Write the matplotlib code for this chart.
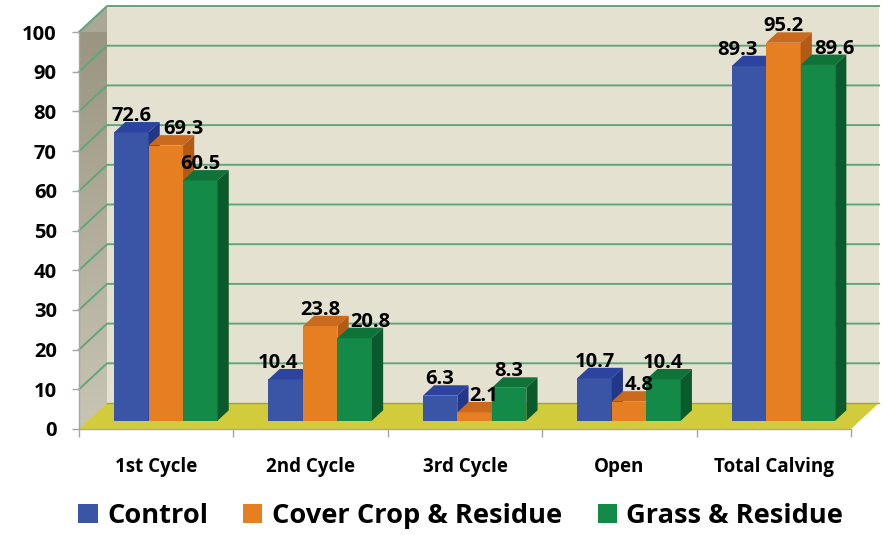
import matplotlib.pyplot as plt
from matplotlib.patches import Polygon, Patch
from matplotlib.colors import LinearSegmentedColormap
import numpy as np

plt.rcParams['font.family'] = ['Open Sans', 'DejaVu Sans']
plt.rcParams['font.weight'] = 'bold'

categories = ['1st Cycle', '2nd Cycle', '3rd Cycle', 'Open', 'Total Calving']
series = ['Control', 'Cover Crop & Residue', 'Grass & Residue']
control = [72.6, 10.4, 6.3, 10.7, 89.3]
cover_crop = [69.3, 23.8, 2.1, 4.8, 95.2]
grass = [60.5, 20.8, 8.3, 10.4, 89.6]
values = [control, cover_crop, grass]

# front, top and side shades for each series
front_cols = ['#3A54A6', '#E67E22', '#138A47']
top_cols = ['#2C44A0', '#C96A1E', '#0F7238']
side_cols = ['#23378A', '#B45A18', '#0B5A2C']

# small sideways shifts (pixels) that keep the value labels apart
label_nudge_px = [[0, 18, 0], [-8, 0, 16], [0, 9, 0], [0, 10, 0], [-11, 0, 17]]

W, H = 886, 535
fig = plt.figure(figsize=(W / 100, H / 100), dpi=100)
x0, x1, y0, y1 = 79, 851, 429, 32
ax = fig.add_axes([x0 / W, (H - y0) / H, (x1 - x0) / W, (y0 - y1) / H])

pxx = (x1 - x0) / 5.0
pxy = (y0 - y1) / 100.0
DX, DY = 28 / pxx, 26 / pxy          # depth of the box
bw = 34.5 / pxx                      # bar width
f0, fd = 0.32, 0.40                  # bar front position and depth as fraction of box depth
sx, sy = DX * f0, DY * f0
bdx, bdy = DX * fd, DY * fd
gap = 0.227 - sx

def poly(pts, color, z, **kw):
    p = Polygon(pts, closed=True, facecolor=color, edgecolor='none', zorder=z, clip_on=False, **kw)
    ax.add_patch(p)
    return p

# back wall, side wall, floor
poly([(DX, DY), (5 + DX, DY), (5 + DX, 100 + DY), (DX, 100 + DY)], '#E5E1D0', 0.2)
wall = poly([(0, 0), (DX, DY), (DX, 100 + DY), (0, 100)], '#ABA796', 0.3)
grad = np.linspace(0, 1, 256).reshape(-1, 1)
im = ax.imshow(grad, extent=[0, DX, 0, 100 + DY], origin='lower', aspect='auto',
               cmap=LinearSegmentedColormap.from_list('wall', ['#C9C5B5', '#97927F']),
               zorder=0.4)
im.set_clip_path(wall)
im.set_clip_box(None)
poly([(0, 0), (5, 0), (5 + DX, DY), (DX, DY)], '#D2CC3C', 0.5)
ax.set_xlim(0, 5)
ax.set_ylim(0, 100)

# gridlines on the back wall and the side wall
for v in range(10, 101, 10):
    ax.plot([0, DX, 5 + DX], [v, v + DY, v + DY], color='#5FA67A', lw=1.4, zorder=0.6, clip_on=False)
ax.plot([DX, 5 + DX], [DY, DY], color='#9BA83A', lw=1.0, zorder=0.6, clip_on=False)

# bars, drawn left to right so nearer faces overlap
for i in range(len(categories)):
    for j in range(len(series)):
        v = values[j][i]
        left = i + gap + sx + j * bw
        ax.bar(left, v, width=bw, bottom=sy, align='edge', color=front_cols[j],
               linewidth=0, zorder=3 + i * 3 + j)
        top = sy + v
        poly([(left, top), (left + bw, top), (left + bw + bdx, top + bdy), (left + bdx, top + bdy)],
             top_cols[j], 3 + i * 3 + j)
        poly([(left + bw, sy), (left + bw + bdx, sy + bdy), (left + bw + bdx, top + bdy), (left + bw, top)],
             side_cols[j], 3 + i * 3 + j)
        ax.text(left + bw / 2 + label_nudge_px[i][j] / pxx, top + bdy - 1.0, f'{v:.1f}',
                ha='center', va='bottom', fontsize=14.5, fontweight='bold', zorder=40, clip_on=False)

# axes styling
for s in ['top', 'right']:
    ax.spines[s].set_visible(False)
for s in ['left', 'bottom']:
    ax.spines[s].set_color('#A6A6A6')
    ax.spines[s].set_linewidth(1.0)
    ax.spines[s].set_zorder(50)
ax.set_yticks(range(0, 101, 10))
ax.tick_params(axis='y', length=5, width=1, color='#A6A6A6', pad=11, labelsize=14.5)
ax.set_xticks(range(0, 6))
ax.set_xticklabels([])
ax.set_xticks(np.arange(0.5, 5, 1), minor=True)
ax.set_xticklabels(categories, minor=True, fontsize=13.5, fontweight='bold')
ax.tick_params(axis='x', which='major', length=6, width=1, color='#A6A6A6', direction='out')
ax.tick_params(axis='x', which='minor', length=0, pad=20)
for lab in ax.get_yticklabels():
    lab.set_fontweight('bold')

handles = [Patch(facecolor=c, edgecolor='none') for c in front_cols]
fig.legend(handles, series, loc='center', bbox_to_anchor=(0.52, (H - 516) / H), ncol=3,
           frameon=False, prop={'size': 19.6, 'weight': 'bold'}, handlelength=0.7, handleheight=0.7,
           handletextpad=0.35, columnspacing=1.3)

fig.savefig('out.png', dpi=100, facecolor='white')
